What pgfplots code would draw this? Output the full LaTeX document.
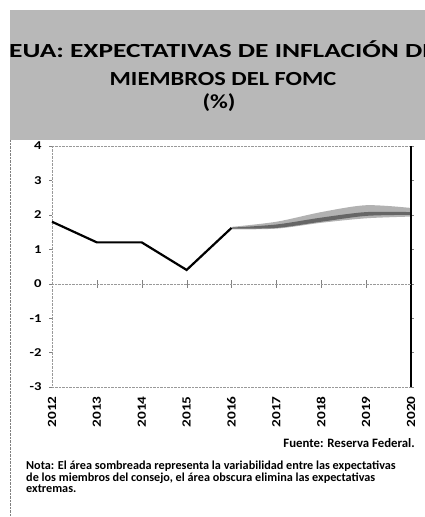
\documentclass[border=0pt]{standalone}
\usepackage{pgfplots}
\pgfplotsset{compat=1.18}
\usepgfplotslibrary{fillbetween}
\usepackage{fontspec}
\setmainfont{Carlito}
\newfontfamily\bfw[FakeStretch=1.22]{Carlito Bold}
\newfontfamily\bfww[FakeStretch=1.37]{Carlito Bold}
\newfontfamily\nb{Carlito Bold}
\begin{document}
\begin{tikzpicture}[x=1pt,y=1pt]
% header
\fill[black!28] (10,377) rectangle (440,507);
\node[anchor=base west, inner sep=0pt, font=\bfww\fontsize{20}{24}\selectfont] at (9,459) {EUA: EXPECTATIVAS DE INFLACIÓN DE LOS};
\node[anchor=base, inner sep=0pt, font=\bfw\fontsize{20}{24}\selectfont] at (223,431) {MIEMBROS DEL FOMC};
\node[anchor=base, inner sep=0pt, font=\bfw\fontsize{20}{24}\selectfont] at (219,408) {(\%)};
\draw[gray, densely dotted] (10,0) -- (10,377);
% main axis
\begin{axis}[at={(52pt,130pt)}, anchor=south west, width=359pt, height=241pt, scale only axis,
  xmin=2012, xmax=2020, ymin=-3, ymax=4,
  xtick={2012,...,2020}, xticklabels={2012,2013,2014,2015,2016,2017,2018,2019,2020},
  ytick={-3,...,4}, yticklabels={-3,-2,-1,0,1,2,3,4},
  xticklabel style={rotate=90, anchor=east, font=\bfw\fontsize{12.5}{14}\selectfont},
  xticklabel shift={3pt},
  yticklabel style={font=\bfw\fontsize{12}{14}\selectfont},
  yticklabel shift={4pt},
  xtick style={draw=none},
  ytick style={gray}, major tick length=3pt, tick align=outside,
  axis line style={gray!80, densely dotted},
  clip=false]
\addplot[name path=lu, draw=none, smooth] coordinates {(2016,1.65)(2017,1.8)(2018,2.08)(2019,2.28)(2020,2.2)};
\addplot[name path=ll, draw=none, smooth] coordinates {(2016,1.58)(2017,1.6)(2018,1.77)(2019,1.9)(2020,1.95)};
\addplot[black!30] fill between[of=lu and ll];
\addplot[name path=du, draw=none, smooth] coordinates {(2016,1.63)(2017,1.72)(2018,1.92)(2019,2.08)(2020,2.08)};
\addplot[name path=dl, draw=none, smooth] coordinates {(2016,1.6)(2017,1.62)(2018,1.8)(2019,1.97)(2020,2.0)};
\addplot[black!60] fill between[of=du and dl];
\addplot[black, line width=2.2pt] coordinates {(2012,1.8)(2013,1.2)(2014,1.2)(2015,0.4)(2016,1.62)};
\draw[black, line width=1.8pt] (rel axis cs:1,0) -- (rel axis cs:1,1);
\end{axis}
% zero axis overlay
\begin{axis}[at={(52pt,130pt)}, anchor=south west, width=359pt, height=241pt, scale only axis,
  xmin=2012, xmax=2020, ymin=-3, ymax=4,
  axis x line=middle, axis y line=none,
  axis line style={gray!80, densely dotted, -},
  xtick={2013,...,2019}, xticklabels={}, ytick=\empty,
  xtick style={gray, solid}, major tick length=8pt, tick align=center]
\end{axis}
% notes
\node[anchor=base east, inner sep=0pt, font=\nb\fontsize{12.8}{14}\selectfont] at (415,69) {Fuente: Reserva Federal.};
\node[anchor=base west, inner sep=0pt, font=\nb\fontsize{12.2}{13}\selectfont] at (26,47) {Nota: El área sombreada representa la variabilidad entre las expectativas};
\node[anchor=base west, inner sep=0pt, font=\nb\fontsize{12.2}{13}\selectfont] at (26,35) {de los miembros del consejo, el área obscura elimina las expectativas};
\node[anchor=base west, inner sep=0pt, font=\nb\fontsize{12.2}{13}\selectfont] at (26,24) {extremas.};
\pgfresetboundingbox
\useasboundingbox (0,0) rectangle (424,517);
\end{tikzpicture}
\end{document}
